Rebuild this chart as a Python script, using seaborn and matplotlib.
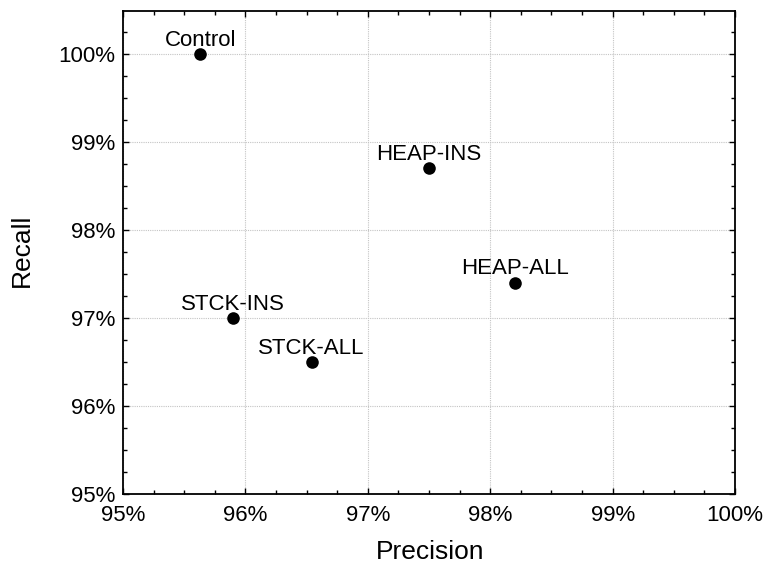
import matplotlib
matplotlib.use("Agg")
import matplotlib.pyplot as plt
import seaborn as sns
import pandas as pd
from matplotlib.ticker import MultipleLocator, FuncFormatter

# Detection results per configuration (percent)
configs = ["Control", "HEAP-INS", "HEAP-ALL", "STCK-INS", "STCK-ALL"]
precision = [95.63, 97.50, 98.20, 95.90, 96.54]
recall = [100.0, 98.70, 97.40, 97.00, 96.50]

df = pd.DataFrame({"config": configs, "Precision": precision, "Recall": recall})

sns.set_theme(style="white")
plt.rcParams["font.family"] = ["Liberation Sans", "DejaVu Sans"]
plt.rcParams["text.color"] = "black"
plt.rcParams["axes.labelcolor"] = "black"
plt.rcParams["xtick.color"] = "black"
plt.rcParams["ytick.color"] = "black"

fig = plt.figure(figsize=(7.66, 5.65), dpi=100)
ax = fig.add_axes([0.1606, 0.1257, 0.799, 0.855])

sns.scatterplot(data=df, x="Precision", y="Recall", ax=ax, color="black",
                s=82, edgecolor="black", linewidth=0, zorder=3)

for name, px, ry in zip(configs, precision, recall):
    ax.annotate(name, (px, ry), xytext=(0, 6), textcoords="offset points",
                ha="center", va="baseline", fontsize=16, color="black")

ax.set_xlim(95, 100)
ax.set_ylim(95, 100.49)
ax.xaxis.set_major_locator(MultipleLocator(1))
ax.yaxis.set_major_locator(MultipleLocator(1))
ax.xaxis.set_minor_locator(MultipleLocator(0.25))
ax.yaxis.set_minor_locator(MultipleLocator(0.25))
pct = FuncFormatter(lambda v, _: f"{v:.0f}%")
ax.xaxis.set_major_formatter(pct)
ax.yaxis.set_major_formatter(pct)

ax.grid(True, which="major", color="#c4c4c4", linestyle=(0, (1, 1)), linewidth=0.8)
ax.tick_params(which="both", direction="in", top=True, right=True,
               bottom=True, left=True, color="black")
ax.tick_params(axis="x", which="major", length=4, width=1, labelsize=16, pad=8)
ax.tick_params(axis="y", which="major", length=4, width=1, labelsize=16, pad=5.5)
ax.tick_params(which="minor", length=3, width=1)
for sp in ax.spines.values():
    sp.set_color("black")
    sp.set_linewidth(1.3)

ax.set_xlabel("Precision", fontsize=19)
ax.set_ylabel("Recall", fontsize=19)
ax.xaxis.set_label_coords(0.502, -0.095)
ax.yaxis.set_label_coords(-0.146, 0.505)

fig.savefig("out.png", dpi=100)
